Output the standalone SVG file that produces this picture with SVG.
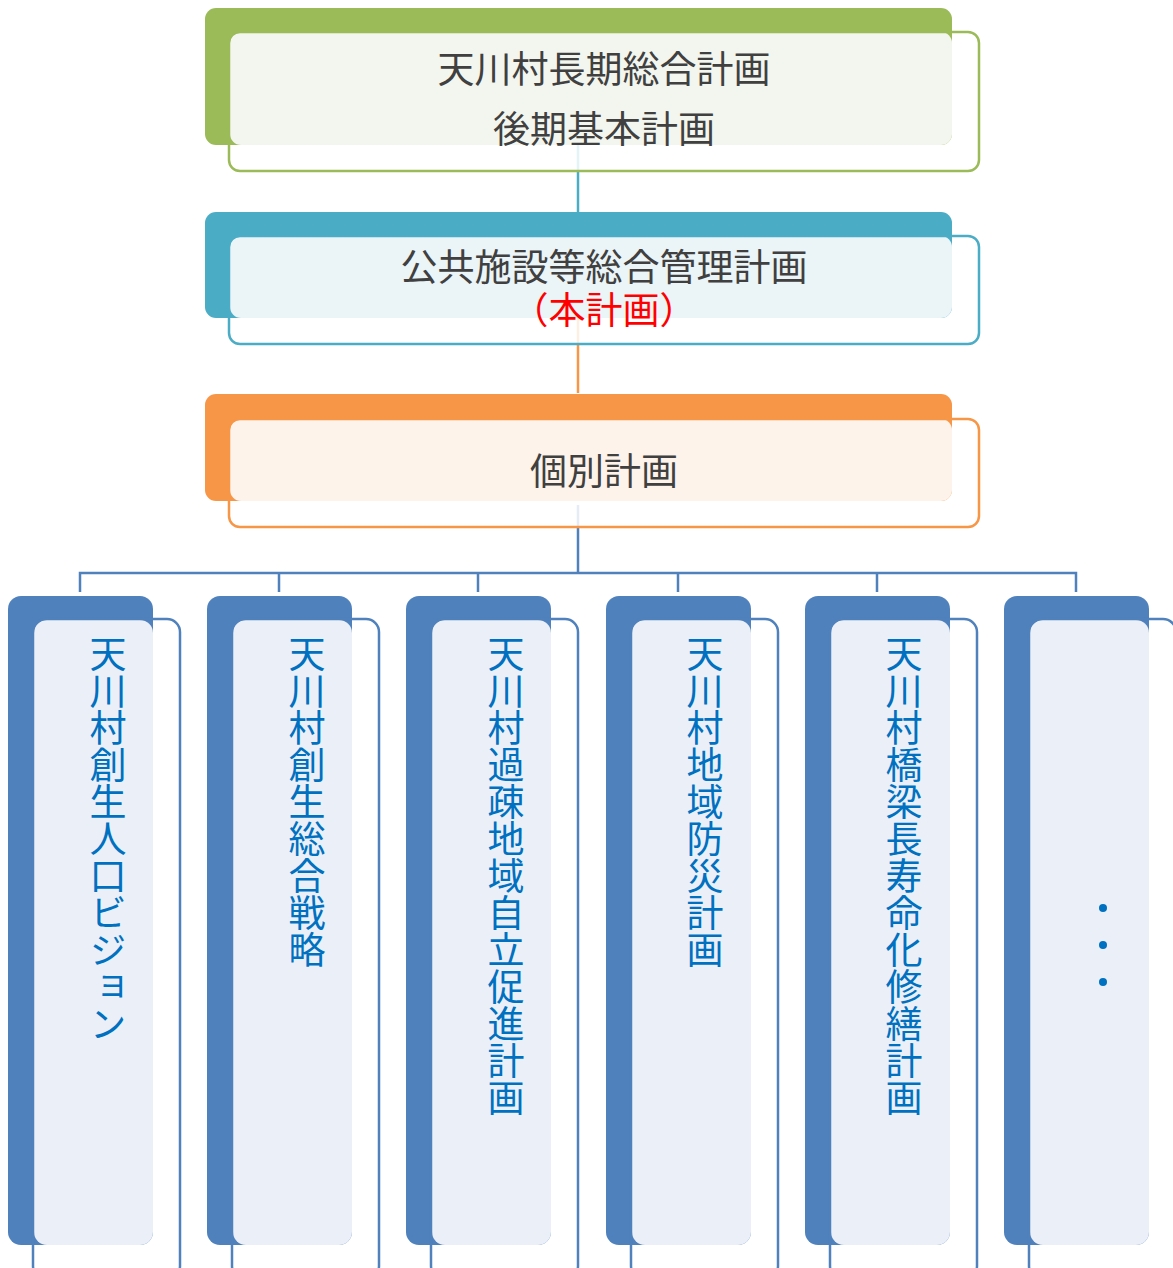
<svg xmlns="http://www.w3.org/2000/svg" width="1173" height="1268" viewBox="0 0 1173 1268">
<style>
.t{font-family:"Noto Sans CJK JP","Noto Sans",sans-serif;font-size:37px;fill:#404040;text-anchor:middle}
.v{font-family:"Noto Sans CJK JP","Noto Sans",sans-serif;font-size:37px;fill:#0070C0;writing-mode:vertical-rl}
.colD{fill:#4F81BD}
.colF{fill:#EBF0F8}
.colO{fill:none;stroke:#4F81BD;stroke-width:2.5}
.con{fill:none;stroke-width:2.5}
</style>
<rect width="1173" height="1268" fill="#FFFFFF"/>
<g id="connectors">
<line class="con" x1="578" y1="145" x2="578" y2="171" stroke="#4BACC6" stroke-opacity="0.15"/>
<line class="con" x1="578" y1="171" x2="578" y2="212" stroke="#4BACC6"/>
<line class="con" x1="578" y1="318" x2="578" y2="344" stroke="#F79646" stroke-opacity="0.15"/>
<line class="con" x1="578" y1="344" x2="578" y2="393" stroke="#F79646"/>
<line class="con" x1="578" y1="505" x2="578" y2="528" stroke="#4F81BD" stroke-opacity="0.15"/>
<path class="con" stroke="#4F81BD" d="M578 528 V573 M80 592 V573 H1076 V592 M279 573 V592 M478 573 V592 M678 573 V592 M877 573 V592"/>
</g>
<g id="node-top">
<rect x="205" y="8" width="747" height="137" rx="11" fill="#9BBB59"/>
<rect x="230" y="32" width="722" height="113" rx="11" fill="#F3F6EE"/>
<rect x="229" y="32" width="750" height="139" rx="11" fill="none" stroke="#9BBB59" stroke-width="2.5"/>
<text class="t" x="604" y="83">天川村長期総合計画</text>
<text class="t" x="604" y="143">後期基本計画</text>
</g>
<g id="node-main">
<rect x="205" y="212" width="747" height="106" rx="11" fill="#4BACC6"/>
<rect x="230" y="236" width="722" height="82" rx="11" fill="#EBF4F7"/>
<rect x="229" y="236" width="750" height="108" rx="11" fill="none" stroke="#4BACC6" stroke-width="2.5"/>
<text class="t" x="604" y="281">公共施設等総合管理計画</text>
<text class="t" x="604" y="324" style="fill:#FF0000">（本計画）</text>
</g>
<g id="node-individual">
<rect x="205" y="394" width="747" height="107" rx="11" fill="#F79646"/>
<rect x="230" y="419" width="722" height="82" rx="11" fill="#FDF3EB"/>
<rect x="229" y="419" width="750" height="108" rx="11" fill="none" stroke="#F79646" stroke-width="2.5"/>
<text class="t" x="604" y="485">個別計画</text>
</g>
<g id="col1">
<rect class="colD" x="8" y="596" width="145" height="649" rx="13"/>
<rect class="colF" x="34" y="620" width="119" height="625" rx="13"/>
<rect class="colO" x="33" y="619" width="147" height="660" rx="13"/>
<text class="v" x="108" y="635">天川村創生人口ビジョン</text>
</g>
<g id="col2">
<rect class="colD" x="207" y="596" width="145" height="649" rx="13"/>
<rect class="colF" x="233" y="620" width="119" height="625" rx="13"/>
<rect class="colO" x="232" y="619" width="147" height="660" rx="13"/>
<text class="v" x="307" y="635">天川村創生総合戦略</text>
</g>
<g id="col3">
<rect class="colD" x="406" y="596" width="145" height="649" rx="13"/>
<rect class="colF" x="432" y="620" width="119" height="625" rx="13"/>
<rect class="colO" x="431" y="619" width="147" height="660" rx="13"/>
<text class="v" x="506" y="635">天川村過疎地域自立促進計画</text>
</g>
<g id="col4">
<rect class="colD" x="606" y="596" width="145" height="649" rx="13"/>
<rect class="colF" x="632" y="620" width="119" height="625" rx="13"/>
<rect class="colO" x="631" y="619" width="147" height="660" rx="13"/>
<text class="v" x="705" y="635">天川村地域防災計画</text>
</g>
<g id="col5">
<rect class="colD" x="805" y="596" width="145" height="649" rx="13"/>
<rect class="colF" x="831" y="620" width="119" height="625" rx="13"/>
<rect class="colO" x="830" y="619" width="147" height="660" rx="13"/>
<text class="v" x="904" y="635">天川村橋梁長寿命化修繕計画</text>
</g>
<g id="col6">
<rect class="colD" x="1004" y="596" width="145" height="649" rx="13"/>
<rect class="colF" x="1030" y="620" width="119" height="625" rx="13"/>
<rect class="colO" x="1029" y="619" width="147" height="660" rx="13"/>
<circle cx="1103" cy="908" r="4" fill="#0070C0"/>
<circle cx="1103" cy="945" r="4" fill="#0070C0"/>
<circle cx="1103" cy="982" r="4" fill="#0070C0"/>
</g>
</svg>
